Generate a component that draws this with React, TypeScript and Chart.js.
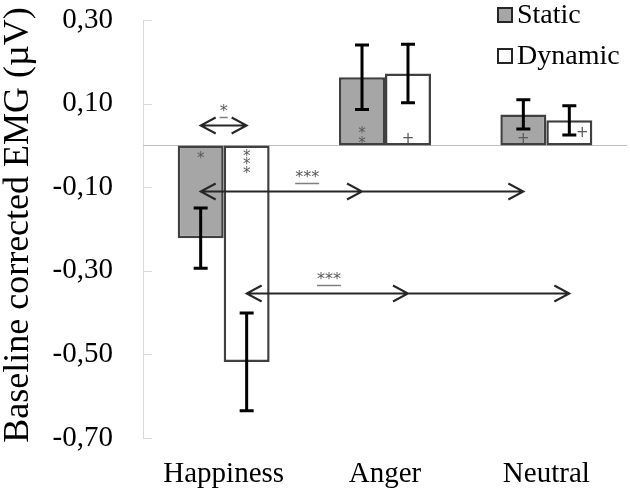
import React, { useEffect, useRef } from 'react';
import { Chart, registerables } from 'chart.js';

Chart.register(...registerables);

const categories = ['Happiness', 'Anger', 'Neutral'];
const seriesNames = ['Static', 'Dynamic'];
const staticValues = [-0.222, 0.163, 0.074];
const dynamicValues = [-0.518, 0.172, 0.06];
const staticErrors = [0.072, 0.077, 0.035];
const dynamicErrors = [0.117, 0.07, 0.035];
const yTicks = [-0.7, -0.5, -0.3, -0.1, 0.1, 0.3];
const yTitle = 'Baseline corrected EMG (\u00B5V)';

// significance comparisons: bars joined [category, series], y value of arrow line
const comparisonBars = [
  [[0, 0], [0, 1]],
  [[0, 0], [1, 0], [2, 0]],
  [[0, 1], [1, 1], [2, 1]],
];
const comparisonY = [0.049, -0.11, -0.353];
const comparisonLabels = ['*', '***', '***'];
const comparisonLabelFrac = [0.5, 0.66, 0.51];

// markers inside bars: category, series, y values, glyph
const markerCats = [0, 0, 1, 1, 2, 2];
const markerSeries = [0, 1, 0, 1, 0, 1];
const markerValues = [[-0.022], [-0.017, -0.038, -0.06], [0.038, 0.014], [0.019], [0.019], [0.033]];
const markerText = ['*', '*', '*', '+', '+', '+'];
const markerShift = [0, 0, 0, 0, 0, 13];

const SERIF = "'Liberation Serif', 'Times New Roman', serif";
const STATIC_FILL = '#a6a6a6';
const BORDER = '#404040';

function centeredText(ctx: CanvasRenderingContext2D, t: string, x: number, yc: number) {
  ctx.textAlign = 'center';
  ctx.textBaseline = 'alphabetic';
  const m = ctx.measureText(t);
  const base = yc + (m.actualBoundingBoxAscent - m.actualBoundingBoxDescent) / 2;
  ctx.fillText(t, x, base);
}

const decorPlugin = {
  id: 'decor',
  beforeDatasetsDraw(chart: any) {
    const { ctx, chartArea: a, scales } = chart;
    const y = scales.y;
    ctx.save();
    ctx.strokeStyle = '#d9d9d9';
    ctx.lineWidth = 1;
    ctx.beginPath();
    ctx.moveTo(a.left + 0.5, y.getPixelForValue(yTicks[yTicks.length - 1]));
    ctx.lineTo(a.left + 0.5, y.getPixelForValue(yTicks[0]));
    yTicks.forEach((v) => {
      const py = Math.round(y.getPixelForValue(v)) + 0.5;
      ctx.moveTo(a.left, py);
      ctx.lineTo(a.left + 9, py);
    });
    ctx.stroke();
    ctx.strokeStyle = '#bfbfbf';
    ctx.beginPath();
    const z = Math.round(y.getPixelForValue(0)) + 0.5;
    ctx.moveTo(a.left, z);
    ctx.lineTo(a.right, z);
    ctx.stroke();
    ctx.restore();
  },
  afterDatasetsDraw(chart: any) {
    const { ctx, scales } = chart;
    const y = scales.y;
    const metas = [chart.getDatasetMeta(0), chart.getDatasetMeta(1)];
    const barX = (c: number, s: number) => metas[s].data[c].x;
    ctx.save();
    // markers
    ctx.fillStyle = '#595959';
    markerCats.forEach((c, i) => {
      const x = barX(c, markerSeries[i]) + markerShift[i];
      ctx.font = "15px 'DejaVu Sans'";
      markerValues[i].forEach((v) => centeredText(ctx, markerText[i], x, y.getPixelForValue(v)));
    });
    // error bars
    ctx.strokeStyle = '#000';
    ctx.lineWidth = 3;
    [staticValues, dynamicValues].forEach((vals, s) => {
      const errs = s === 0 ? staticErrors : dynamicErrors;
      vals.forEach((v, c) => {
        const x = barX(c, s);
        const yt = y.getPixelForValue(v + errs[c]);
        const yb = y.getPixelForValue(v - errs[c]);
        ctx.beginPath();
        ctx.moveTo(x, yt);
        ctx.lineTo(x, yb);
        ctx.moveTo(x - 7, yt);
        ctx.lineTo(x + 7, yt);
        ctx.moveTo(x - 7, yb);
        ctx.lineTo(x + 7, yb);
        ctx.stroke();
      });
    });
    // comparison arrows
    comparisonBars.forEach((bars, k) => {
      const py = Math.round(y.getPixelForValue(comparisonY[k])) + 0.5;
      const xs = bars.map(([c, s]) => barX(c, s));
      ctx.strokeStyle = '#262626';
      ctx.lineWidth = 2;
      ctx.beginPath();
      ctx.moveTo(xs[0], py);
      ctx.lineTo(xs[xs.length - 1], py);
      xs.forEach((x, i) => {
        const dir = i === 0 ? 1 : -1;
        ctx.moveTo(x + dir * 15, py - 8);
        ctx.lineTo(x, py);
        ctx.lineTo(x + dir * 15, py + 8);
      });
      ctx.stroke();
      const lx = xs[0] + comparisonLabelFrac[k] * (xs[1] - xs[0]);
      ctx.font = "16px 'DejaVu Sans'";
      ctx.fillStyle = '#595959';
      centeredText(ctx, comparisonLabels[k], lx, py - 18);
      const w = Math.max(ctx.measureText(comparisonLabels[k]).width, 8);
      ctx.strokeStyle = '#7f7f7f';
      ctx.lineWidth = 1.5;
      ctx.beginPath();
      ctx.moveTo(lx - w / 2, py - 8);
      ctx.lineTo(lx + w / 2, py - 8);
      ctx.stroke();
    });
    ctx.restore();
  },
  afterDraw(chart: any) {
    const { ctx } = chart;
    ctx.save();
    // legend
    const fills = [STATIC_FILL, '#ffffff'];
    const rowsY = [15, 56];
    seriesNames.forEach((name, i) => {
      ctx.fillStyle = fills[i];
      ctx.fillRect(498, rowsY[i] - 7, 14, 14);
      ctx.strokeStyle = '#262626';
      ctx.lineWidth = 2;
      ctx.strokeRect(498, rowsY[i] - 7, 14, 14);
      ctx.fillStyle = '#000';
      ctx.font = `28px ${SERIF}`;
      ctx.textAlign = 'left';
      ctx.textBaseline = 'middle';
      ctx.fillText(name, 517, rowsY[i] + 1);
    });
    // y title
    ctx.translate(28, 225);
    ctx.rotate(-Math.PI / 2);
    ctx.font = `36px ${SERIF}`;
    ctx.textAlign = 'center';
    ctx.textBaseline = 'alphabetic';
    ctx.fillStyle = '#000';
    ctx.fillText(yTitle, 0, 0);
    ctx.restore();
  },
};

export default function App() {
  const ref = useRef<HTMLCanvasElement>(null);
  useEffect(() => {
    if (!ref.current) return;
    const chart = new Chart(ref.current, {
      type: 'bar',
      data: {
        labels: categories,
        datasets: [
          {
            label: seriesNames[0],
            data: staticValues,
            backgroundColor: STATIC_FILL,
            borderColor: BORDER,
            borderWidth: 2.5,
            borderSkipped: false,
          },
          {
            label: seriesNames[1],
            data: dynamicValues,
            backgroundColor: '#ffffff',
            borderColor: BORDER,
            borderWidth: 2.5,
            borderSkipped: false,
          },
        ],
      },
      options: {
        animation: false,
        responsive: false,
        devicePixelRatio: 1,
        categoryPercentage: 0.57,
        barPercentage: 1,
        layout: { padding: { top: 20, right: 3, left: 0, bottom: 0 } },
        plugins: { legend: { display: false }, tooltip: { enabled: false }, title: { display: false } },
        scales: {
          x: {
            grid: { display: false, drawTicks: false },
            border: { display: false },
            ticks: { color: '#000', font: { family: SERIF, size: 29 }, padding: 19 },
            afterFit: (s: any) => { s.height = 55; s.paddingLeft = 0; s.paddingRight = 0; },
          },
          y: {
            min: -0.7,
            max: 0.3,
            grid: { display: false, drawTicks: false },
            border: { display: false },
            afterBuildTicks: (s: any) => { s.ticks = yTicks.map((v) => ({ value: v })); },
            ticks: {
              color: '#000',
              font: { family: SERIF, size: 29 },
              padding: 30,
              callback: (v: any) => Number(v).toFixed(2).replace('.', ','),
            },
            afterFit: (s: any) => { s.width = 143; s.paddingTop = 0; s.paddingBottom = 0; },
          },
        },
      } as any,
      plugins: [decorPlugin],
    });
    return () => chart.destroy();
  }, []);
  return (
    <div style={{ position: 'fixed', left: 0, top: 0, width: 630, height: 493, background: '#fff' }}>
      <canvas ref={ref} width={630} height={493} />
    </div>
  );
}
